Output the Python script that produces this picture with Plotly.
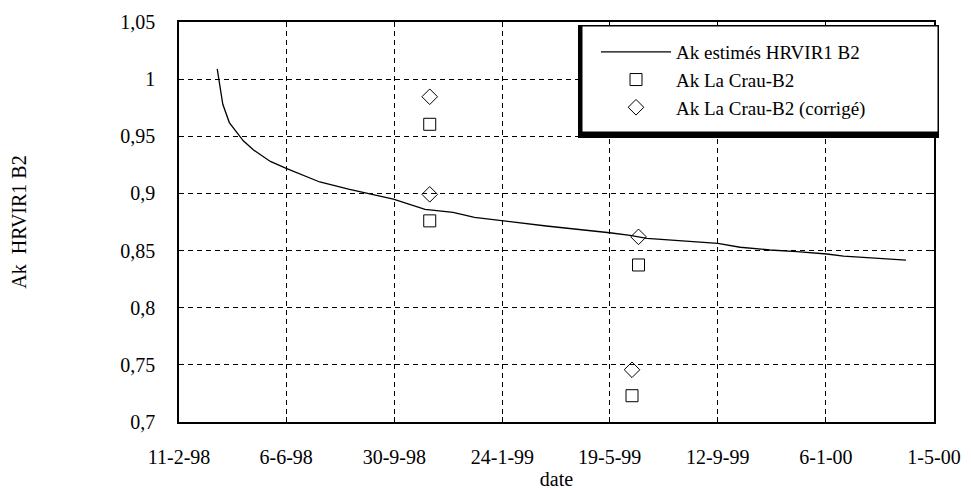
import plotly.graph_objects as go

# ---- data ----
curve_dates = ["1998-03-24", "1998-03-30", "1998-04-06", "1998-04-21", "1998-05-02",
               "1998-05-20", "1998-06-06", "1998-07-12", "1998-08-13", "1998-09-29",
               "1998-11-02", "1998-12-02", "1998-12-25", "1999-01-24", "1999-03-12",
               "1999-05-19", "1999-06-10", "1999-06-28", "1999-08-02", "1999-08-24",
               "1999-09-12", "1999-10-06", "1999-11-07", "1999-12-06", "2000-01-07",
               "2000-01-25", "2000-02-19", "2000-04-01"]
curve_values = [1.009, 0.978, 0.962, 0.946, 0.938,
                0.928, 0.922, 0.910, 0.9035, 0.895,
                0.886, 0.8834, 0.879, 0.876, 0.8715,
                0.8656, 0.8633, 0.8607, 0.8587, 0.8572,
                0.8563, 0.8529, 0.8505, 0.849, 0.847,
                0.8452, 0.8438, 0.8417]

crau_dates = ["1998-11-07", "1998-11-07", "1999-06-19", "1999-06-12"]
crau_values = [0.9605, 0.876, 0.8374, 0.723]

corr_dates = ["1998-11-07", "1998-11-07", "1999-06-19", "1999-06-12"]
corr_values = [0.9846, 0.8992, 0.862, 0.7457]

x_tick_dates = ["1998-02-11", "1998-06-06", "1998-09-30", "1999-01-24",
                "1999-05-19", "1999-09-12", "2000-01-06", "2000-05-01"]
x_tick_labels = ["11-2-98", "6-6-98", "30-9-98", "24-1-99",
                 "19-5-99", "12-9-99", "6-1-00", "1-5-00"]
y_tick_values = [0.7, 0.75, 0.8, 0.85, 0.9, 0.95, 1.0, 1.05]
y_tick_labels = ["0,7", "0,75", "0,8", "0,85", "0,9", "0,95", "1", "1,05"]

FONT = "Liberation Serif, Tinos, Times New Roman, DejaVu Serif, serif"

fig = go.Figure()
fig.add_trace(go.Scatter(x=curve_dates, y=curve_values, mode="lines",
                         name="Ak estimés HRVIR1 B2",
                         line=dict(color="black", width=1.3)))
fig.add_trace(go.Scatter(x=crau_dates, y=crau_values, mode="markers",
                         name="Ak La Crau-B2",
                         marker=dict(symbol="square-open", size=12, color="black",
                                     line=dict(width=1, color="black"))))
fig.add_trace(go.Scatter(x=corr_dates, y=corr_values, mode="markers",
                         name="Ak La Crau-B2 (corrigé)",
                         marker=dict(symbol="diamond-open", size=12, color="black",
                                     line=dict(width=1, color="black"))))

# legend frame with heavy bottom/left edge
fig.add_shape(type="rect", xref="paper", yref="paper", layer="above",
              x0=(578 - 179) / 755, x1=(939 - 179) / 755,
              y0=(422 - 138) / 400, y1=(422 - 25) / 400,
              fillcolor="black", line=dict(width=0))
fig.add_shape(type="rect", xref="paper", yref="paper", layer="above",
              x0=(582 - 179) / 755, x1=(938 - 179) / 755,
              y0=(422 - 132) / 400, y1=(422 - 26) / 400,
              fillcolor="white", line=dict(width=1, color="black"))

fig.update_layout(
    width=971, height=490,
    margin=dict(l=179, r=37, t=22, b=68),
    paper_bgcolor="white", plot_bgcolor="white",
    font=dict(family=FONT, size=20, color="black"),
    showlegend=True,
    legend=dict(x=(596 - 179) / 755, y=(422 - 33) / 400, xanchor="left", yanchor="top",
                bgcolor="rgba(0,0,0,0)", borderwidth=0,
                font=dict(family=FONT, size=19), itemwidth=70,
                tracegroupgap=0),
    xaxis=dict(type="date", range=["1998-02-11", "2000-05-01"],
               tickvals=x_tick_dates, ticktext=x_tick_labels,
               showgrid=True, gridcolor="black", gridwidth=1, griddash="5px,4px",
               showline=True, linecolor="black", linewidth=1.5, mirror="ticks",
               ticks="inside", ticklen=5, tickcolor="black", tickwidth=1,
               ticklabelstandoff=16, zeroline=False, automargin=False,
               title=dict(text="date", standoff=20, font=dict(family=FONT, size=20))),
    yaxis=dict(range=[0.7, 1.05], tickvals=y_tick_values, ticktext=y_tick_labels,
               showgrid=True, gridcolor="black", gridwidth=1, griddash="5px,4px",
               showline=True, linecolor="black", linewidth=1.5, mirror="ticks",
               ticks="inside", ticklen=5, tickcolor="black", tickwidth=1,
               ticklabelstandoff=18, zeroline=False, automargin=False,
               title=dict(text="Ak  HRVIR1 B2", standoff=88, font=dict(family=FONT, size=20))),
)

fig.write_html("out.html", config={"displayModeBar": False},
               post_script="document.body.style.margin='0';")
